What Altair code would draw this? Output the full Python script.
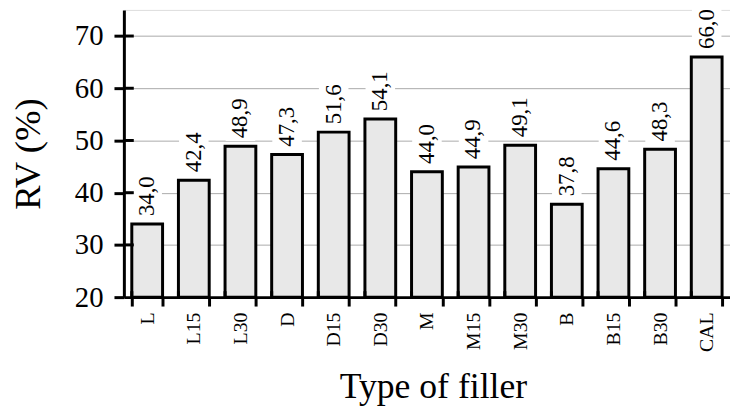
import altair as alt
import pandas as pd

categories = ["L", "L15", "L30", "D", "D15", "D30", "M", "M15", "M30", "B", "B15", "B30", "CAL"]
values = [34.0, 42.4, 48.9, 47.3, 51.6, 54.1, 44.0, 44.9, 49.1, 37.8, 44.6, 48.3, 66.0]
y_ticks = [20, 30, 40, 50, 60, 70]

df = pd.DataFrame({"cat": categories, "v": values})
df["label"] = [f"{v:.1f}".replace(".", ",") for v in values]
ticks_df = pd.DataFrame({"t": y_ticks[1:]})

FONT = "Liberation Serif"
H = 290
W = 612

xscale = alt.Scale(domain=categories, paddingInner=0.34, paddingOuter=0.17)
yscale = alt.Scale(domain=[20, 75], nice=False, zero=False)

x_enc = alt.X("cat:N", sort=categories, scale=xscale, title="Type of filler",
              axis=alt.Axis(labelAngle=-90, labelFont=FONT, labelFontSize=20, labelColor="black",
                            labelPadding=6, tickBand="extent", tickSize=9, tickWidth=3,
                            tickColor="black", domainColor="black", domainWidth=3,
                            titleFont=FONT, titleFontSize=36, titleFontWeight="normal",
                            titleColor="black", titlePadding=18, titleX=W / 2 + 6))
y_axis = alt.Axis(values=y_ticks, labelFont=FONT, labelFontSize=29, labelColor="black",
                  labelPadding=11, tickSize=10, tickWidth=3, tickColor="black",
                  domainColor="black", domainWidth=3, grid=True, gridColor="#aaaaaa",
                  gridWidth=1, titleFont=FONT, titleFontSize=37, titleFontWeight="normal",
                  titleColor="black", title="RV (%)", titleX=-96, titleY=H / 2,
                  titleAngle=-90, titleAlign="center", titleBaseline="middle")

base = alt.Chart(df)

boxes = base.transform_calculate(y1="datum.v + 1", y2="datum.v + 9.5").mark_bar(
    fill="white", stroke=None, width=alt.RelativeBandSize(0.96)
).encode(x=x_enc, y=alt.Y("y1:Q", scale=yscale, axis=y_axis), y2="y2:Q")

bars = base.mark_bar(fill="#e8e8e8", stroke="black", strokeWidth=3).encode(
    x=alt.X("cat:N", sort=categories, scale=xscale),
    y=alt.Y("v:Q", scale=yscale),
    y2=alt.datum(20),
)

labels = base.mark_text(angle=270, align="left", baseline="middle", dx=8, font=FONT,
                        fontSize=23, color="black").encode(
    x=alt.X("cat:N", sort=categories, scale=xscale),
    y=alt.Y("v:Q", scale=yscale),
    text="label:N",
)

inner_y = alt.Chart(ticks_df).mark_rule(color="black", strokeWidth=3).encode(
    y=alt.Y("t:Q", scale=yscale), x=alt.value(0), x2=alt.value(10)
)

inner_x = base.mark_rule(color="black", strokeWidth=3).encode(
    x=alt.X("cat:N", sort=categories, scale=xscale, bandPosition=0),
    y=alt.value(H - 6), y2=alt.value(H)
)

chart = alt.layer(boxes, bars, labels, inner_y, inner_x).properties(
    width=W, height=H,
    autosize=alt.AutoSizeParams(type="none"),
    padding={"left": 117, "top": 0, "right": 0, "bottom": 110},
).configure_view(stroke=None).configure(background="white", font=FONT)

chart.save("out.html", embed_options={"renderer": "svg", "actions": False})
